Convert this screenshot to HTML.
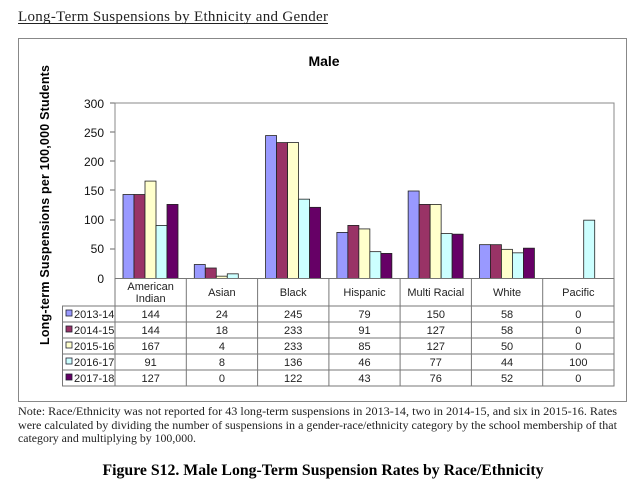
<!DOCTYPE html>
<html><head><meta charset="utf-8"><style>
body{margin:0;width:640px;height:487px;background:#fff;overflow:hidden}
svg{display:block}
</style></head><body>
<svg width="640" height="487" xmlns="http://www.w3.org/2000/svg">
<text x="18" y="21" font-family="Liberation Serif" font-size="15" fill="#222" textLength="310">Long-Term Suspensions by Ethnicity and Gender</text>
<line x1="18" y1="23.5" x2="328" y2="23.5" stroke="#222" stroke-width="1"/>
<rect x="18.5" y="38.5" width="608" height="363" fill="#fff" stroke="#888" stroke-width="1"/>
<text x="324" y="66" font-family="Liberation Sans" font-weight="bold" font-size="14" text-anchor="middle">Male</text>
<text transform="translate(49,205) rotate(-90)" font-family="Liberation Sans" font-weight="bold" font-size="12.5" text-anchor="middle" textLength="280">Long-term Suspensions per 100,000 Students</text>
<g stroke="#666" stroke-width="1">
<line x1="110" y1="103" x2="115" y2="103"/><line x1="110" y1="132" x2="115" y2="132"/><line x1="110" y1="161" x2="115" y2="161"/><line x1="110" y1="190" x2="115" y2="190"/><line x1="110" y1="220" x2="115" y2="220"/><line x1="110" y1="249" x2="115" y2="249"/><line x1="110" y1="278.5" x2="115" y2="278.5"/>
</g>
<rect x="115" y="103" width="499" height="175.5" fill="none" stroke="#888"/>
<g id="bars" stroke="#222" stroke-width="0.8"></g>
<g stroke="#777" stroke-width="1" fill="none">
<rect x="62.5" y="278.5" width="551.5" height="107.5"/>
<line x1="62" y1="306" x2="614" y2="306"/>
<line x1="62" y1="322" x2="614" y2="322"/>
<line x1="62" y1="338" x2="614" y2="338"/>
<line x1="62" y1="354" x2="614" y2="354"/>
<line x1="62" y1="370" x2="614" y2="370"/>
<line x1="115" y1="278" x2="115" y2="386"/>
<line x1="186.3" y1="278" x2="186.3" y2="386"/>
<line x1="257.6" y1="278" x2="257.6" y2="386"/>
<line x1="328.9" y1="278" x2="328.9" y2="386"/>
<line x1="400.1" y1="278" x2="400.1" y2="386"/>
<line x1="471.4" y1="278" x2="471.4" y2="386"/>
<line x1="542.7" y1="278" x2="542.7" y2="386"/>
</g>
<rect x="61" y="278" width="53.5" height="27.5" fill="#fff"/>
<g font-family="Liberation Sans" font-size="12" text-anchor="end" fill="#111">
<text x="104" y="108">300</text><text x="104" y="137">250</text><text x="104" y="166">200</text><text x="104" y="195">150</text><text x="104" y="224">100</text><text x="104" y="253">50</text><text x="104" y="283">0</text>
</g>
<g id="tbl" font-family="Liberation Sans" font-size="11" fill="#222" text-anchor="middle"></g>
<g font-family="Liberation Serif" font-size="12" fill="#222">
<text x="18" y="415" textLength="599" lengthAdjust="spacingAndGlyphs">Note: Race/Ethnicity was not reported for 43 long-term suspensions in 2013-14, two in 2014-15, and six in 2015-16.  Rates</text>
<text x="18" y="429" textLength="599" lengthAdjust="spacingAndGlyphs">were calculated by dividing the number of suspensions in a gender-race/ethnicity category by the school membership of that</text>
<text x="18" y="442" textLength="178" lengthAdjust="spacingAndGlyphs">category and multiplying by 100,000.</text>
</g>
<text x="323" y="475" font-family="Liberation Serif" font-weight="bold" font-size="16" text-anchor="middle" textLength="441" lengthAdjust="spacingAndGlyphs">Figure S12.  Male Long-Term Suspension Rates by Race/Ethnicity</text>
<script>
var data=[[144,144,167,91,127],[24,18,4,8,0],[245,233,233,136,122],[79,91,85,46,43],[150,127,127,77,76],[58,58,50,44,52],[0,0,0,100,0]];
var cats=[["American","Indian"],["Asian"],["Black"],["Hispanic"],["Multi Racial"],["White"],["Pacific"]];
var cols=["#9999FF","#993366","#FFFFCC","#CCFFFF","#660066"];
var yrs=["2013-14","2014-15","2015-16","2016-17","2017-18"];
var ns="http://www.w3.org/2000/svg",g=document.getElementById("bars"),t=document.getElementById("tbl");
function el(n,a,p,txt){var e=document.createElementNS(ns,n);for(var k in a)e.setAttribute(k,a[k]);if(txt!=null)e.textContent=txt;p.appendChild(e);return e;}
var cw=499/7;
for(var i=0;i<7;i++){var x0=115+cw*i;
 for(var j=0;j<5;j++){var v=data[i][j];if(v<=0)continue;var h=v*175/300;
  el("rect",{x:x0+8+11*j,y:278.5-h,width:11,height:h,fill:cols[j]},g);}
 var cx=x0+cw/2;
 if(cats[i].length==2){el("text",{x:cx,y:290},t,cats[i][0]);el("text",{x:cx,y:302},t,cats[i][1]);}
 else el("text",{x:cx,y:296},t,cats[i][0]);
 for(var j=0;j<5;j++)el("text",{x:cx,y:318+16*j},t,String(data[i][j]));
}
for(var j=0;j<5;j++){el("rect",{x:66,y:310+16*j,width:6,height:6,fill:cols[j],stroke:"#223","stroke-width":0.8},t);
 el("text",{x:74,y:318+16*j,"text-anchor":"start"},t,yrs[j]);}
</script>
</svg>
</body></html>
